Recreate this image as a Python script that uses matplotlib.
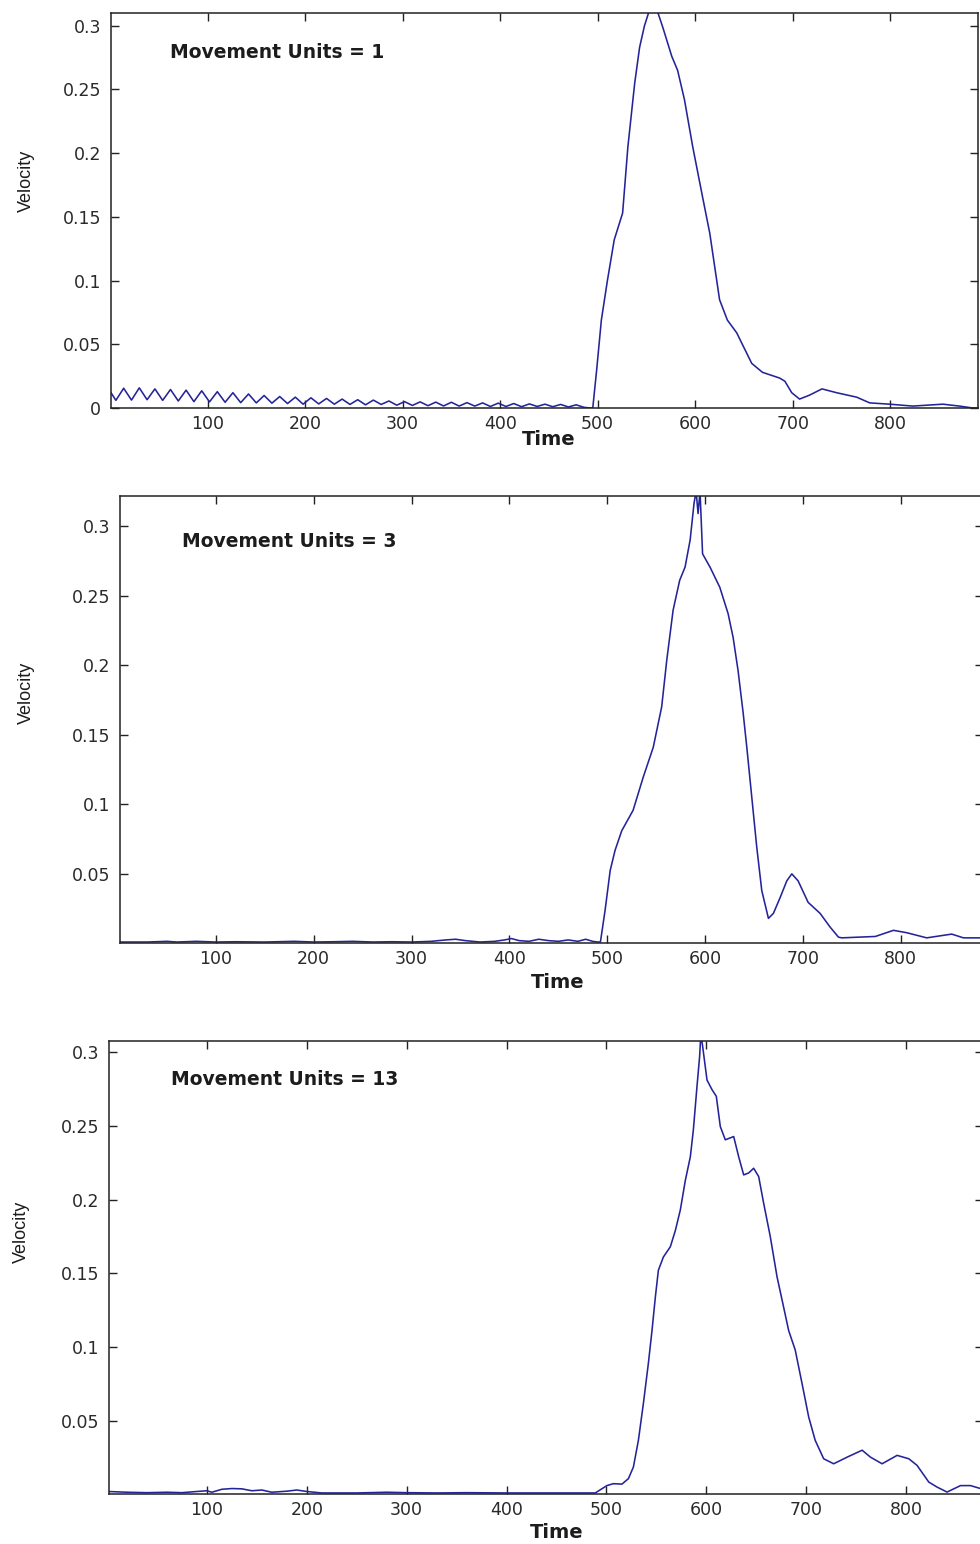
import matplotlib
matplotlib.use("Agg")
import matplotlib.pyplot as plt

# ---------------- data ----------------
# Panel 1 : Movement Units = 1
t1 = [1, 6, 14, 22, 30, 38, 46, 54, 62, 70, 78, 86, 94, 102, 110, 118, 126, 134,
      142, 150, 158, 166, 174, 182, 190, 198, 206, 214, 222, 230, 238, 246, 254,
      262, 270, 278, 286, 294, 302, 310, 318, 326, 334, 342, 350, 358, 366, 374,
      382, 390, 398, 406, 414, 422, 430, 438, 446, 454, 462, 470, 478, 486, 493,
      495, 499, 503.8, 510, 517, 525.6, 531, 538, 543, 548, 553, 557, 561, 566.7,
      576, 582, 589, 597.5, 606.7, 615, 620, 625, 633, 642.6, 649, 658, 669,
      686.6, 692, 699, 707, 717, 730, 745, 765.6, 779, 799.5, 823, 854, 871,
      884.6, 891]
v1 = [0.012, 0.006, 0.0155, 0.0062, 0.0158, 0.0065, 0.0150, 0.0060, 0.0145,
      0.0055, 0.0140, 0.0050, 0.0135, 0.0048, 0.0128, 0.0045, 0.0120, 0.0042,
      0.0110, 0.0040, 0.0098, 0.0038, 0.0090, 0.0035, 0.0085, 0.0030, 0.0080,
      0.0032, 0.0075, 0.0030, 0.0070, 0.0028, 0.0065, 0.0025, 0.0062, 0.0028,
      0.0055, 0.0022, 0.0050, 0.0020, 0.0048, 0.0018, 0.0046, 0.0016, 0.0045,
      0.0015, 0.0042, 0.0015, 0.0040, 0.0012, 0.0038, 0.0012, 0.0035, 0.0010,
      0.0032, 0.0012, 0.0030, 0.0010, 0.0028, 0.0008, 0.0025, 0.0005, 0.0,
      0.0, 0.030, 0.069, 0.100, 0.132, 0.153, 0.205, 0.255, 0.283, 0.300, 0.312,
      0.314, 0.312, 0.299, 0.276, 0.265, 0.242, 0.205, 0.169, 0.137, 0.111,
      0.085, 0.069, 0.059, 0.049, 0.035, 0.028, 0.0235, 0.021, 0.012, 0.007,
      0.010, 0.015, 0.012, 0.0085, 0.004, 0.003, 0.0015, 0.003, 0.0015, 0.0,
      0.0]

# Panel 2 : Movement Units = 3
t2 = [1, 30, 50, 60, 80, 100, 120, 150, 180, 200, 220, 240, 260, 280, 300, 320,
      335, 345, 355, 370, 385, 395, 402, 410, 420, 430, 440, 450, 460, 470, 478,
      485, 490, 493, 497.8, 503, 508, 514.8, 526.4, 536.7, 547, 555.6, 560.8,
      567.3, 574, 579.5, 584.7, 588.7, 590.8, 592.8, 594.8, 597.4, 605, 615,
      623.5, 628.6, 633.7, 638.9, 642.6, 647.7, 652.8, 657.9, 664.7, 669.8,
      676.7, 683.5, 688.6, 695, 705.3, 717.5, 727.8, 736.3, 739.7, 774, 792.5,
      806, 826.5, 852, 864, 881]
v2 = [0.001, 0.001, 0.0015, 0.001, 0.0015, 0.001, 0.0012, 0.001, 0.0015, 0.001,
      0.0012, 0.0015, 0.001, 0.0012, 0.001, 0.0015, 0.0025, 0.003, 0.002, 0.001,
      0.0015, 0.0025, 0.0035, 0.002, 0.0015, 0.003, 0.002, 0.0015, 0.0025,
      0.0015, 0.003, 0.0015, 0.001, 0.001, 0.024, 0.0525, 0.067, 0.081, 0.0957,
      0.1194, 0.141, 0.170, 0.2036, 0.2396, 0.261, 0.2705, 0.290, 0.3165, 0.325,
      0.309, 0.325, 0.280, 0.2705, 0.256, 0.237, 0.220, 0.196, 0.1655, 0.141,
      0.105, 0.069, 0.038, 0.018, 0.0216, 0.033, 0.045, 0.050, 0.045, 0.0295,
      0.0216, 0.0117, 0.0045, 0.004, 0.005, 0.0094, 0.0077, 0.004, 0.0067,
      0.004, 0.004]

# Panel 3 : Movement Units = 13
t3 = [1, 20, 40, 60, 75, 90, 100, 105, 115, 125, 135, 145, 155, 165, 180, 190,
      200, 215, 250, 280, 300, 330, 360, 400, 450, 488.8, 500.5, 507, 515.5,
      522, 527, 532, 537, 542, 545.6, 549, 552, 557, 564, 569, 574, 579, 584,
      587, 590.7, 593.3, 594.5, 596.3, 600.7, 605.7, 610, 614, 619, 627.4,
      632.4, 637.4, 642.4, 647.4, 652.4, 657.4, 664, 670.8, 677.4, 682.5, 689,
      695.9, 702.5, 709, 717.5, 727.5, 741, 756, 764.3, 776, 791, 802.7, 811,
      822.7, 831, 841, 854.5, 864.5, 874.5]
v3 = [0.002, 0.0015, 0.0012, 0.0015, 0.0012, 0.002, 0.0025, 0.0015, 0.0035,
      0.004, 0.0038, 0.0025, 0.003, 0.0015, 0.0022, 0.003, 0.002, 0.001, 0.001,
      0.0015, 0.0012, 0.001, 0.0012, 0.001, 0.001, 0.001, 0.006, 0.0073, 0.007,
      0.0107, 0.0186, 0.0367, 0.0617, 0.089, 0.111, 0.134, 0.152, 0.161, 0.168,
      0.179, 0.193, 0.213, 0.229, 0.247, 0.277, 0.297, 0.312, 0.304, 0.281,
      0.2745, 0.270, 0.2495, 0.2405, 0.2427, 0.229, 0.2167, 0.218, 0.2212,
      0.2156, 0.1975, 0.175, 0.1476, 0.127, 0.111, 0.098, 0.075, 0.0525, 0.0367,
      0.0242, 0.0208, 0.0253, 0.030, 0.0253, 0.0208, 0.0265, 0.0242, 0.0197,
      0.0084, 0.005, 0.0016, 0.006, 0.006, 0.004]

titles = ["Movement Units = 1", "Movement Units = 3", "Movement Units = 13"]
xticks = [100, 200, 300, 400, 500, 600, 700, 800]
yticks1 = [0, 0.05, 0.1, 0.15, 0.2, 0.25, 0.3]
yticks23 = [0.05, 0.1, 0.15, 0.2, 0.25, 0.3]
ytick_labels1 = ["0", "0.05", "0.1", "0.15", "0.2", "0.25", "0.3"]
ytick_labels23 = ["0.05", "0.1", "0.15", "0.2", "0.25", "0.3"]

# ---------------- figure ----------------
W, H = 980, 1544
fig = plt.figure(figsize=(W / 100, H / 100), dpi=100)
fig.patch.set_facecolor("white")

def rect(l, t, r, b):
    return [l / W, 1 - b / H, (r - l) / W, (b - t) / H]

panels = [
    dict(rect=rect(111, 13, 978, 408), xlim=(1, 890), ylim=(0, 0.31),
         t=t1, v=v1, yt=yticks1, ytl=ytick_labels1,
         txt=(0.068, 0.899), ylab=(-0.097, 0.575), xlab=(0.505, -0.081)),
    dict(rect=rect(120, 496, 983, 943), xlim=(2, 884), ylim=(0.0003, 0.3216),
         t=t2, v=v2, yt=yticks23, ytl=ytick_labels23,
         txt=(0.072, 0.899), ylab=(-0.108, 0.559), xlab=(0.5076, -0.089)),
    dict(rect=rect(109, 1041, 983, 1494), xlim=(2, 877), ylim=(0.0003, 0.3075),
         t=t3, v=v3, yt=yticks23, ytl=ytick_labels23,
         txt=(0.071, 0.914), ylab=(-0.100, 0.578), xlab=(0.5126, -0.084)),
]

line_color = "#24249a"
text_color = "#1c1c1c"

for p, title in zip(panels, titles):
    ax = fig.add_axes(p["rect"])
    ax.plot(p["t"], p["v"], color=line_color, lw=1.15)
    ax.set_xlim(*p["xlim"])
    ax.set_ylim(*p["ylim"])
    ax.set_xticks(xticks)
    ax.set_xticklabels([str(x) for x in xticks])
    ax.set_yticks(p["yt"])
    ax.set_yticklabels(p["ytl"])
    ax.tick_params(direction="in", top=True, right=True, length=6, width=1.0,
                   labelsize=12.5, labelcolor="#2a2a2a", color="#222222")
    ax.tick_params(axis="x", pad=5)
    ax.tick_params(axis="y", pad=7)
    for s in ax.spines.values():
        s.set_linewidth(1.1)
        s.set_color("#222222")
    ax.text(p["txt"][0], p["txt"][1], title, transform=ax.transAxes,
            ha="left", va="center", fontsize=13.5, fontweight="bold",
            color=text_color)
    ax.set_ylabel("Velocity", family=["Liberation Sans", "DejaVu Sans"],
                  fontsize=13, color=text_color, va="center")
    ax.yaxis.set_label_coords(*p["ylab"])
    ax.set_xlabel("Time", fontsize=14, fontweight="bold", color=text_color,
                  va="center")
    ax.xaxis.set_label_coords(*p["xlab"])

fig.savefig("out.png", dpi=100, facecolor="white")
